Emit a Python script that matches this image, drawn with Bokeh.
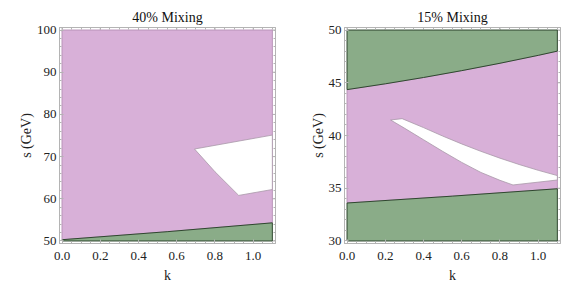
from bokeh.plotting import figure
from bokeh.layouts import row
from bokeh.models import LinearAxis, Range1d, FixedTicker
from bokeh.embed import file_html
from bokeh.resources import INLINE

# ---------------- data ----------------
# Left panel: 40% mixing
left_title = "40% Mixing"
left_line_k = [0.0, 0.55, 1.1]
left_line_s = [50.3, 52.2, 54.3]
left_hole_k = [0.693, 0.80, 0.924, 1.1, 1.1]
left_hole_s = [71.8, 66.4, 60.8, 62.2, 75.1]
left_s_min, left_s_max = 50, 100
left_yticks = [50, 60, 70, 80, 90, 100]

# Right panel: 15% mixing
right_title = "15% Mixing"
right_upper_k = [0.0, 0.2, 0.4, 0.6, 0.8, 1.0, 1.1]
right_upper_s = [44.35, 44.9, 45.5, 46.15, 46.85, 47.6, 48.0]
right_lower_k = [0.0, 0.55, 1.1]
right_lower_s = [33.6, 34.25, 34.95]
right_hole_k = [0.228, 0.288, 0.40, 0.50, 0.60, 0.70, 0.80, 0.90, 1.0, 1.1, 1.1,
                0.868, 0.80, 0.70, 0.60, 0.50, 0.40, 0.30]
right_hole_s = [41.47, 41.6, 40.75, 39.95, 39.2, 38.5, 37.85, 37.25, 36.7, 36.2, 35.78,
                35.31, 35.75, 36.5, 37.45, 38.5, 39.6, 40.7]
right_s_min, right_s_max = 30, 50
right_yticks = [30, 35, 40, 45, 50]

k_min, k_max = 0.0, 1.1
xticks = [0.0, 0.2, 0.4, 0.6, 0.8, 1.0]
xlabels = {0.0: "0.0", 0.2: "0.2", 0.4: "0.4", 0.6: "0.6", 0.8: "0.8", 1.0: "1.0"}

# ---------------- style ----------------
PURPLE = "#d8b0d8"
PURPLE_EDGE = "#b994b9"
GREEN = "#8aac88"
GREEN_EDGE = "#2f472f"
HOLE_EDGE = "#a898a8"
FRAME = "#b4b4b4"
FONT = "Liberation Serif"
FRAME_W = 216
FRAME_H = 216
MAJOR_LEN = 4


def style_axis(ax):
    ax.axis_line_color = FRAME
    ax.major_tick_line_color = FRAME
    ax.minor_tick_line_color = FRAME
    ax.major_tick_in = MAJOR_LEN
    ax.major_tick_out = 0
    ax.minor_tick_in = 2
    ax.minor_tick_out = 0
    ax.major_label_text_font = FONT
    ax.major_label_text_font_size = "13px"
    ax.major_label_text_color = "#222222"
    ax.axis_label_text_font = FONT
    ax.axis_label_text_font_size = "14px"
    ax.axis_label_text_font_style = "normal"
    ax.axis_label_text_color = "#222222"


def make_panel(title, s_min, s_max, yticks, ymin_step, border_left, border_right):
    pad_x = 0.012 * (k_max - k_min)
    pad_y = 0.012 * (s_max - s_min)
    x0, x1 = k_min - pad_x, k_max + pad_x * 1.25
    y0, y1 = s_min - pad_y, s_max + pad_y
    p = figure(width=border_left + FRAME_W + border_right, height=288,
               frame_width=FRAME_W, frame_height=FRAME_H,
               x_range=Range1d(x0, x1), y_range=Range1d(y0, y1),
               output_backend="svg", toolbar_location=None,
               min_border_left=border_left, min_border_right=border_right,
               min_border_top=27, min_border_bottom=45, title=title)
    p.title.align = "center"
    p.title.text_font = FONT
    p.title.text_font_size = "14px"
    p.title.text_font_style = "normal"
    p.title.text_color = "#111111"
    p.title.standoff = 6
    p.xgrid.visible = False
    p.ygrid.visible = False
    p.outline_line_color = FRAME
    p.background_fill_color = "white"

    x_minor = [i * 0.05 for i in range(0, 23)]
    y_minor = list(range(s_min, s_max + 1, ymin_step))

    p.xaxis.ticker = FixedTicker(ticks=xticks, minor_ticks=x_minor)
    p.xaxis.major_label_overrides = xlabels
    p.xaxis.axis_label = "k"
    p.xaxis.axis_label_standoff = 5
    p.xaxis.major_label_standoff = 8
    p.yaxis.ticker = FixedTicker(ticks=yticks, minor_ticks=y_minor)
    p.yaxis.axis_label = "s (GeV)"
    p.yaxis.axis_label_standoff = 0
    p.yaxis.major_label_standoff = 3
    style_axis(p.xaxis[0])
    style_axis(p.yaxis[0])

    # top and right frame sides: minor ticks only through axes (no labels)
    top = LinearAxis(ticker=FixedTicker(ticks=[], minor_ticks=x_minor))
    right = LinearAxis(ticker=FixedTicker(ticks=[], minor_ticks=y_minor))
    style_axis(top)
    style_axis(right)
    p.add_layout(top, "above")
    p.add_layout(right, "right")

    # major tick marks on top and right sides, from the tick arrays
    dy = MAJOR_LEN * (y1 - y0) / FRAME_H
    dx = MAJOR_LEN * (x1 - x0) / FRAME_W
    p.segment(x0=xticks, y0=[y1] * len(xticks), x1=xticks, y1=[y1 - dy] * len(xticks),
              line_color=FRAME, line_width=1)
    p.segment(x0=[x1] * len(yticks), y0=yticks, x1=[x1 - dx] * len(yticks), y1=yticks,
              line_color=FRAME, line_width=1)
    return p


# ---------------- left panel ----------------
p1 = make_panel(left_title, left_s_min, left_s_max, left_yticks, 2, 59, 15)
purple_k = left_line_k + [k_max, k_min]
purple_s = left_line_s + [left_s_max, left_s_max]
p1.patch(purple_k, purple_s, fill_color=PURPLE, line_color=PURPLE_EDGE, line_width=1)
green_k = [k_min, k_max] + left_line_k[::-1]
green_s = [left_s_min, left_s_min] + left_line_s[::-1]
p1.patch(green_k, green_s, fill_color=GREEN, line_color=GREEN_EDGE, line_width=1)
p1.patch(left_hole_k, left_hole_s, fill_color="white", line_color=HOLE_EDGE, line_width=0.8)

# ---------------- right panel ----------------
p2 = make_panel(right_title, right_s_min, right_s_max, right_yticks, 1, 54, 20)
pk = right_lower_k + right_upper_k[::-1]
ps = right_lower_s + right_upper_s[::-1]
p2.patch(pk, ps, fill_color=PURPLE, line_color=PURPLE_EDGE, line_width=1)
gk_up = right_upper_k + [k_max, k_min]
gs_up = right_upper_s + [right_s_max, right_s_max]
p2.patch(gk_up, gs_up, fill_color=GREEN, line_color=GREEN_EDGE, line_width=1)
gk_lo = [k_min, k_max] + right_lower_k[::-1]
gs_lo = [right_s_min, right_s_min] + right_lower_s[::-1]
p2.patch(gk_lo, gs_lo, fill_color=GREEN, line_color=GREEN_EDGE, line_width=1)
p2.patch(right_hole_k, right_hole_s, fill_color="white", line_color=HOLE_EDGE, line_width=0.8)

layout = row(p1, p2)
open("out.html", "w").write(file_html(layout, INLINE))
